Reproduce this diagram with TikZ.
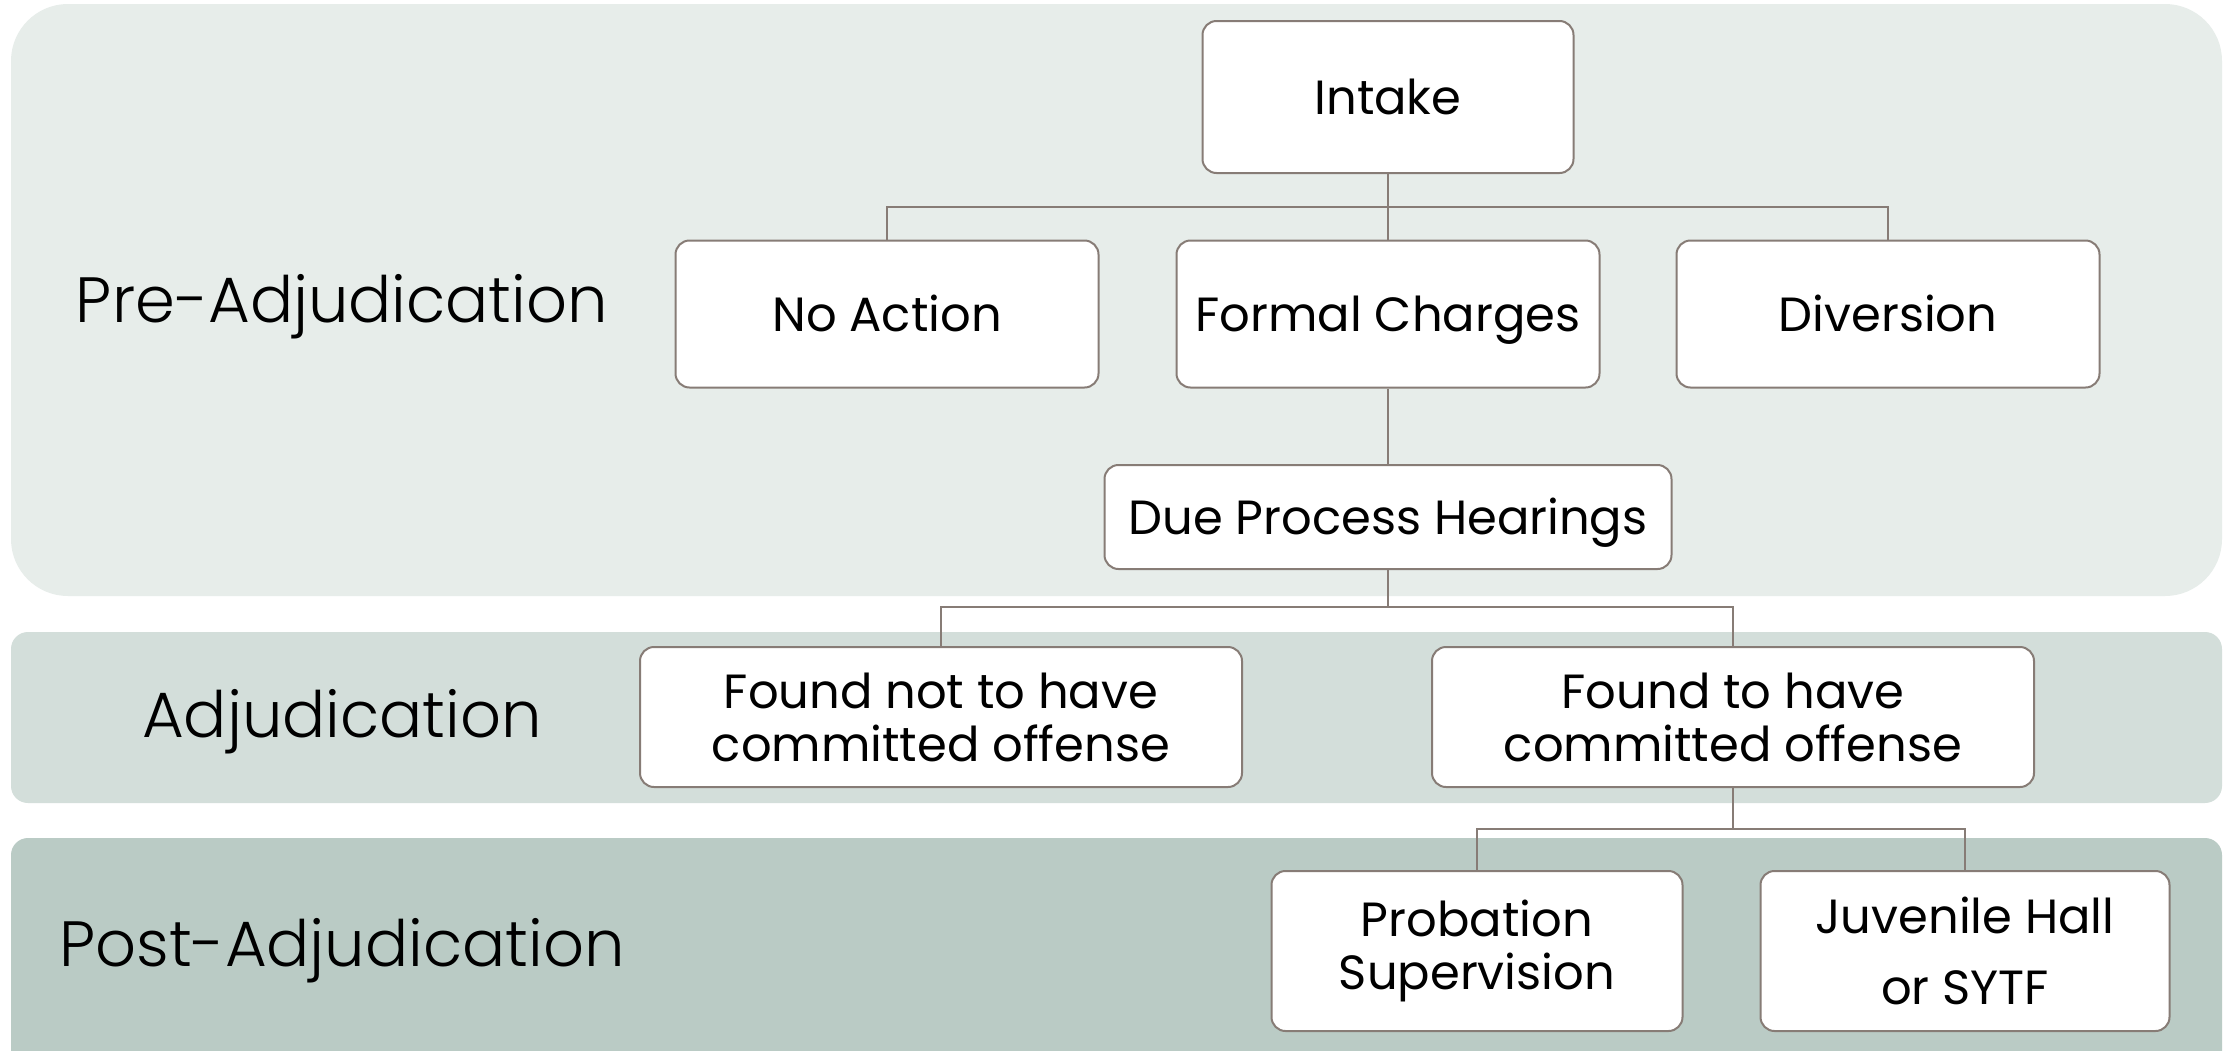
\documentclass[tikz,border=0pt]{standalone}
\usepackage{fontspec}
\setmainfont{Poppins}
\newfontfamily\lightfont{Poppins Light}
\definecolor{panelA}{HTML}{E7EDEA}
\definecolor{panelB}{HTML}{D3DEDA}
\definecolor{panelC}{HTML}{BACBC5}
\definecolor{edge}{HTML}{877C76}
\begin{document}
\begin{tikzpicture}[x=1pt,y=-1pt,
  box/.style={draw=edge,line width=2pt,fill=white,rounded corners=14pt,inner sep=0pt,align=center,
    font=\fontsize{48}{53}\selectfont},
  oneline/.style={text height=46pt,text depth=12pt},
  conn/.style={draw=edge,line width=2pt},
  phase/.style={font=\lightfont\fontsize{64}{70}\selectfont,anchor=center}]
\useasboundingbox (0,0) rectangle (2236,1050);
\fill[white] (0,0) rectangle (2236,1050);
% panels
\fill[panelA,rounded corners=57pt] (11,4) rectangle (2222,596);
\fill[panelB,rounded corners=17pt] (11,632) rectangle (2222,803);
\fill[panelC,rounded corners=17pt] (11,838) rectangle (2222,1090);
% phase labels
\node[phase] (lpre) at (342,307) {Pre-Adjudication};
\node[phase] (ladj) at (342,722) {Adjudication};
\node[phase] (lpost) at (342,951) {Post-Adjudication};
% boxes
\node[box,oneline,minimum width=371pt,minimum height=152pt] (intake) at (1388,97) {Intake};
\node[box,oneline,minimum width=423pt,minimum height=147pt] (noact) at (887,314) {No Action};
\node[box,oneline,minimum width=423pt,minimum height=147pt] (formal) at (1388,314) {Formal Charges};
\node[box,oneline,minimum width=423pt,minimum height=147pt] (div) at (1888,314) {Diversion};
\node[box,oneline,minimum width=567pt,minimum height=104pt] (due) at (1388,517) {Due Process Hearings};
\node[box,minimum width=602pt,minimum height=140pt] (fnot) at (941,717) {Found not to have\\committed offense};
\node[box,minimum width=602pt,minimum height=140pt] (fyes) at (1733,717) {Found to have\\committed offense};
\node[box,minimum width=411pt,minimum height=160pt] (prob) at (1477,951) {Probation\\Supervision};
\node[box,minimum width=409pt,minimum height=160pt] (juv) at (1965,951) {Juvenile Hall\\[18pt]or SYTF};
% buses
\coordinate (bus1) at (0,207);
\coordinate (bus2) at (0,607);
\coordinate (bus3) at (0,829);
% connectors
\draw[conn] (intake.south) -- (formal.north);
\draw[conn] (noact.north) -- (noact.north |- bus1) -- (div.north |- bus1) -- (div.north);
\draw[conn] (formal.south) -- (due.north);
\draw[conn] (due.south) -- (due.south |- bus2);
\draw[conn] (fnot.north) -- (fnot.north |- bus2) -- (fyes.north |- bus2) -- (fyes.north);
\draw[conn] (fyes.south) -- (fyes.south |- bus3);
\draw[conn] (prob.north) -- (prob.north |- bus3) -- (juv.north |- bus3) -- (juv.north);
\end{tikzpicture}
\end{document}
